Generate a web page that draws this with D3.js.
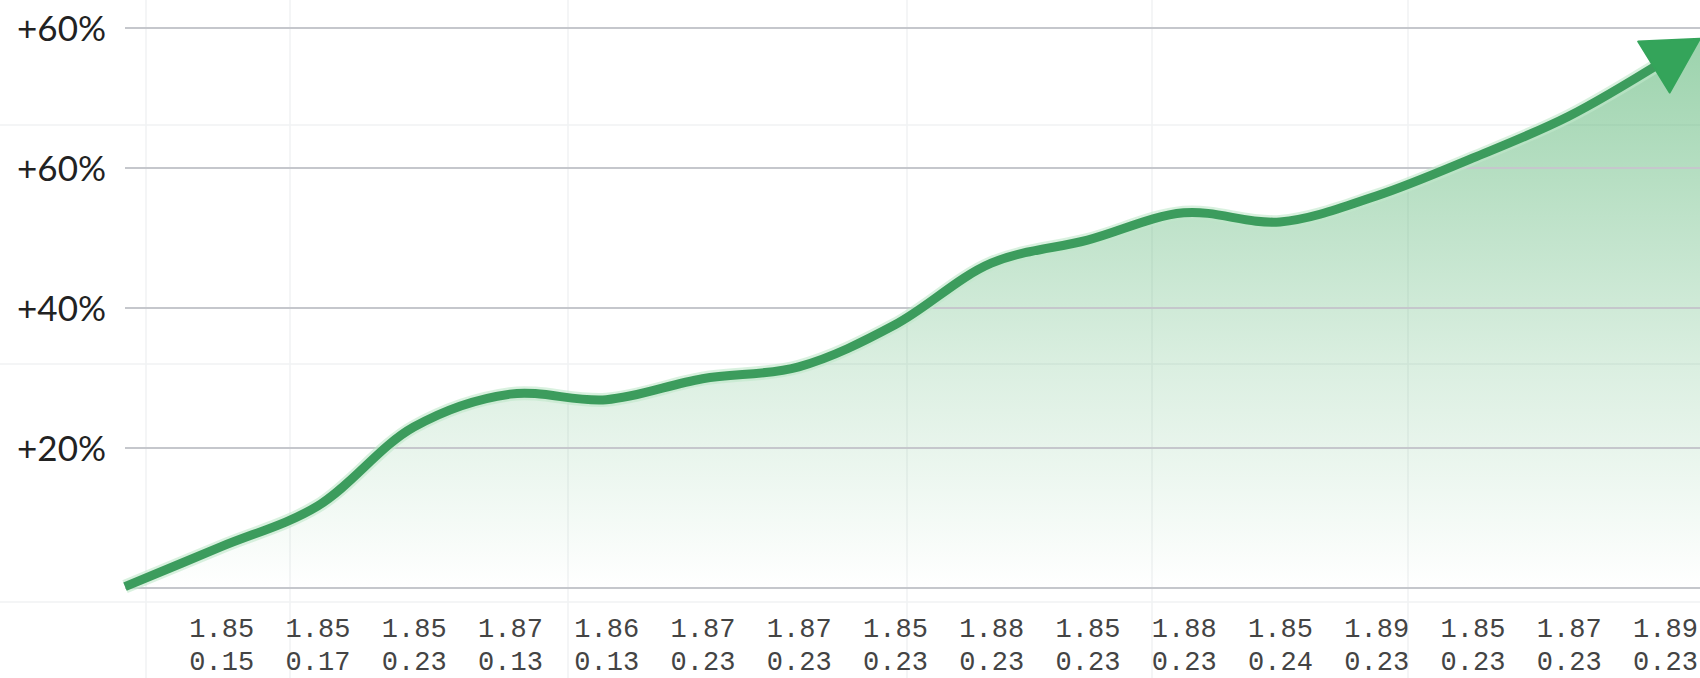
<!DOCTYPE html>
<html><head><meta charset="utf-8">
<script src="https://cdn.jsdelivr.net/npm/d3@7"></script>
<style>html,body{margin:0;padding:0;background:#fff;overflow:hidden}</style>
</head><body>
<svg id="chart" width="1700" height="678"></svg>
<script>
// ---- data ----
const pointIndex = [0,1,2,3,4,5,6,7,8,9,10,11,12,13,14,15,16];
const values = [0.2, 5.9, 11.7, 23.0, 27.7, 26.9, 29.9, 31.6, 37.6, 46.4, 49.7, 53.6, 52.3, 56.0, 61.4, 67.4, 75.4];
const labelIndex = [1,2,3,4,5,6,7,8,9,10,11,12,13,14,15,16];
const labelTop = ["1.85","1.85","1.85","1.87","1.86","1.87","1.87","1.85","1.88","1.85","1.88","1.85","1.89","1.85","1.87","1.89"];
const labelBottom = ["0.15","0.17","0.23","0.13","0.13","0.23","0.23","0.23","0.23","0.23","0.23","0.24","0.23","0.23","0.23","0.23"];
const yTickValues = [0, 20, 40, 60, 80];
const yTickLabels = ["", "+20%", "+40%", "+60%", "+60%"];

// ---- layout ----
const W = 1700, H = 678;
const svg = d3.select("#chart");
const x = d3.scaleLinear().domain([0, 16]).range([125, 1665]);
const y = d3.scaleLinear().domain([0, 80]).range([588, 28]);

// faint background grid (decorative)
const faintV = [146, 290, 568, 907, 1152, 1408];
const faintH = [125, 364, 602];
svg.append("g").selectAll("line.fv").data(faintV).join("line")
  .attr("x1", d => d).attr("x2", d => d).attr("y1", 0).attr("y2", H)
  .attr("stroke", "#f1f2f3").attr("stroke-width", 1.5);
svg.append("g").selectAll("line.fh").data(faintH).join("line")
  .attr("x1", 0).attr("x2", W).attr("y1", d => d).attr("y2", d => d)
  .attr("stroke", "#f1f2f3").attr("stroke-width", 1.5);

// gradient
const defs = svg.append("defs");
const grad = defs.append("linearGradient").attr("id", "fillGrad")
  .attr("gradientUnits", "userSpaceOnUse")
  .attr("x1", 0).attr("x2", 0).attr("y1", y(78)).attr("y2", y(0));
grad.append("stop").attr("offset", "0%").attr("stop-color", "#4caf6a").attr("stop-opacity", 0.55);
grad.append("stop").attr("offset", "60%").attr("stop-color", "#4caf6a").attr("stop-opacity", 0.2);
grad.append("stop").attr("offset", "100%").attr("stop-color", "#4caf6a").attr("stop-opacity", 0.0);

const pts = pointIndex.map((i, k) => [x(i), y(values[k])]);
const lineGen = d3.line().curve(d3.curveCatmullRom.alpha(0.5));
const linePath = lineGen(pts);

// measure end direction
const tmp = svg.append("path").attr("d", linePath).attr("fill", "none");
const node = tmp.node();
const L = node.getTotalLength();
const pEnd = node.getPointAtLength(L);
const pPrev = node.getPointAtLength(L - 6);
tmp.remove();
let ux = pEnd.x - pPrev.x, uy = pEnd.y - pPrev.y;
const ul = Math.hypot(ux, uy); ux /= ul; uy /= ul;
const nx = -uy, ny = ux;
const tip = [pEnd.x + ux * 41, pEnd.y + uy * 41];
const baseC = [pEnd.x - ux * 13, pEnd.y - uy * 13];

// area
const areaPath = linePath + `L${tip[0]},${tip[1]}L${W},${tip[1]}L${W},${y(0)}L${x(0)},${y(0)}Z`;
svg.append("path").attr("d", areaPath).attr("fill", "url(#fillGrad)");

// gridlines
svg.append("g").selectAll("line").data(yTickValues).join("line")
  .attr("x1", 125).attr("x2", W)
  .attr("y1", d => y(d)).attr("y2", d => y(d))
  .attr("stroke", "#c5c7cc").attr("stroke-width", 2);

// y axis labels
const yAxis = d3.axisLeft(y).tickValues(yTickValues)
  .tickFormat((d, i) => yTickLabels[i]).tickSize(0).tickPadding(0);
const gy = svg.append("g").attr("transform", "translate(106,0)").call(yAxis);
gy.select(".domain").remove();
gy.selectAll("text").attr("font-family", "Lato, 'Open Sans', sans-serif")
  .attr("font-size", 35).attr("fill", "#222").attr("dy", "0.36em");

// x axis labels
const xAxis = d3.axisBottom(x).tickValues(labelIndex).tickFormat(() => "").tickSize(0);
const gx = svg.append("g").attr("transform", `translate(0,${y(0)})`).call(xAxis);
gx.select(".domain").remove();
gx.selectAll(".tick text").each(function(d, i) {
  const t = d3.select(this).attr("y", 0).attr("dy", null)
    .attr("font-family", "'Liberation Mono', 'DejaVu Sans Mono', monospace")
    .attr("font-size", 27).attr("fill", "#444");
  t.append("tspan").attr("x", 0).attr("y", 49).text(labelTop[i]);
  t.append("tspan").attr("x", 0).attr("y", 82).text(labelBottom[i]);
});

// glow + line
svg.append("path").attr("d", linePath).attr("fill", "none")
  .attr("stroke", "#bfe8c9").attr("stroke-width", 14).attr("stroke-opacity", 0.6);
svg.append("path").attr("d", linePath).attr("fill", "none")
  .attr("stroke", "#3c9c5d").attr("stroke-width", 9)
  .attr("stroke-linejoin", "round");

// arrowhead
const c1 = [baseC[0] + nx * 30, baseC[1] + ny * 30];
const c2 = [baseC[0] - nx * 30, baseC[1] - ny * 30];
svg.append("path").attr("d", `M${tip[0]},${tip[1]}L${c1[0]},${c1[1]}L${c2[0]},${c2[1]}Z`)
  .attr("fill", "#34a45a").attr("stroke", "#34a45a").attr("stroke-width", 2).attr("stroke-linejoin", "round");
</script>
</body></html>
